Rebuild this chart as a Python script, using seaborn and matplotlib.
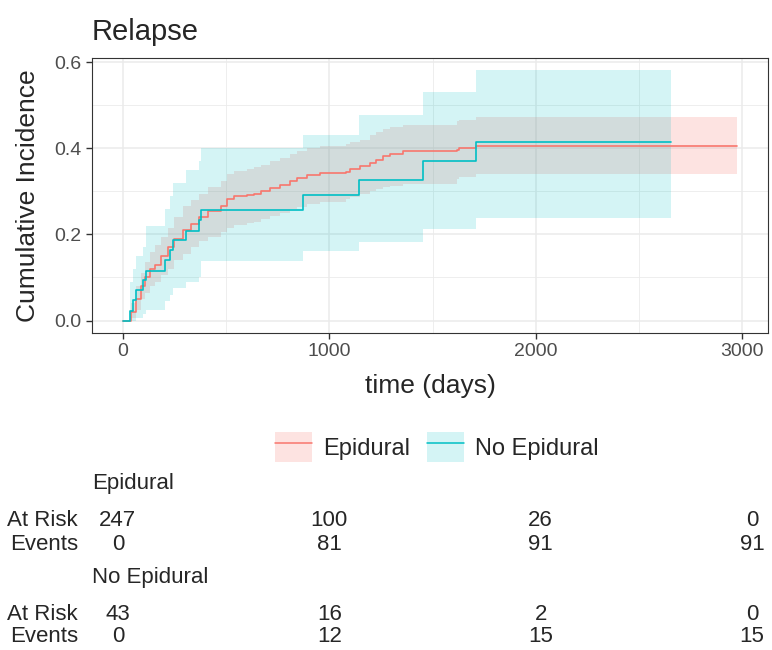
import numpy as np
import pandas as pd
import matplotlib
matplotlib.use("Agg")
import matplotlib.pyplot as plt
import seaborn as sns
from matplotlib.patches import Patch
from matplotlib.lines import Line2D

# --- curvas de incidencia acumulada
epi_time = [0, 42, 66, 90, 106, 130, 154, 186, 218, 250, 291, 331, 371, 411, 475, 507, 539,
            603, 635, 667, 715, 763, 811, 843, 891, 955, 1083, 1099, 1147, 1195, 1227, 1260,
            1292, 1356, 1620, 1628, 1708, 2975]
epi_cif = [0, 0.02, 0.05, 0.08, 0.10, 0.12, 0.13, 0.15, 0.17, 0.19, 0.21, 0.225, 0.24, 0.255,
           0.265, 0.282, 0.289, 0.291, 0.294, 0.30, 0.307, 0.316, 0.325, 0.332, 0.339, 0.343,
           0.346, 0.353, 0.358, 0.365, 0.374, 0.382, 0.386, 0.393, 0.397, 0.401, 0.405, 0.405]
epi_lo = [0, 0.005, 0.025, 0.05, 0.065, 0.08, 0.09, 0.105, 0.12, 0.14, 0.155, 0.17, 0.185,
          0.195, 0.205, 0.215, 0.222, 0.226, 0.23, 0.235, 0.242, 0.25, 0.258, 0.263, 0.27,
          0.275, 0.283, 0.287, 0.294, 0.302, 0.306, 0.31, 0.313, 0.317, 0.33, 0.333, 0.341, 0.341]
epi_hi = [0, 0.04, 0.08, 0.11, 0.135, 0.16, 0.175, 0.195, 0.215, 0.24, 0.265, 0.28, 0.295,
          0.31, 0.325, 0.34, 0.348, 0.352, 0.356, 0.362, 0.37, 0.378, 0.387, 0.394, 0.40,
          0.405, 0.41, 0.415, 0.42, 0.43, 0.437, 0.445, 0.449, 0.455, 0.464, 0.466, 0.472, 0.472]

noepi_time = [0, 34, 50, 62, 98, 112, 204, 228, 244, 305, 370, 380, 871, 1144, 1454, 1711, 2654]
noepi_cif = [0, 0.023, 0.047, 0.070, 0.093, 0.116, 0.140, 0.163, 0.186, 0.209, 0.233, 0.256,
             0.291, 0.327, 0.371, 0.414, 0.414]
noepi_lo = [0, 0, 0, 0.005, 0.015, 0.025, 0.045, 0.06, 0.075, 0.09, 0.10, 0.139, 0.162,
            0.183, 0.212, 0.239, 0.239]
noepi_hi = [0, 0.09, 0.12, 0.15, 0.17, 0.22, 0.26, 0.29, 0.32, 0.35, 0.37, 0.40, 0.431,
            0.477, 0.531, 0.581, 0.581]

# --- tabela de risco
risk_times = [0, 1000, 2000, 3000]
epi_at_risk = [247, 100, 26, 0]
epi_events = [0, 81, 91, 91]
noepi_at_risk = [43, 16, 2, 0]
noepi_events = [0, 12, 15, 15]

groups = ["Epidural", "No Epidural"]
cores = {"Epidural": "#F8766D", "No Epidural": "#00BFC4"}
alfa = {"Epidural": 0.2, "No Epidural": 0.17}

df = pd.concat([
    pd.DataFrame({"time": epi_time, "cif": epi_cif, "grupo": "Epidural"}),
    pd.DataFrame({"time": noepi_time, "cif": noepi_cif, "grupo": "No Epidural"}),
])

sns.set_style("white")
plt.rcParams["font.family"] = ["Liberation Sans", "DejaVu Sans"]

fig = plt.figure(figsize=(7.72, 6.5), dpi=100)
ax = fig.add_axes([92 / 772, 1 - 333 / 650, 676 / 772, 275 / 650])

# grade estilo theme_bw
ax.set_xticks([0, 1000, 2000, 3000])
ax.set_xticks([500, 1500, 2500], minor=True)
ax.set_yticks([0, 0.2, 0.4, 0.6])
ax.set_yticks([0.1, 0.3, 0.5], minor=True)
ax.grid(True, which="major", color="#EBEBEB", lw=1.1)
ax.grid(True, which="minor", color="#EBEBEB", lw=0.6)
ax.set_axisbelow(True)

ax.fill_between(epi_time, epi_lo, epi_hi, step="post", color=cores["Epidural"],
                alpha=alfa["Epidural"], lw=0)
ax.fill_between(noepi_time, noepi_lo, noepi_hi, step="post", color=cores["No Epidural"],
                alpha=alfa["No Epidural"], lw=0)

sns.lineplot(data=df, x="time", y="cif", hue="grupo", palette=cores, estimator=None,
             drawstyle="steps-post", lw=1.2, legend=False, ax=ax)

ax.set_xlim(-149, 3124)
ax.set_ylim(-0.029, 0.61)
ax.set_yticklabels(["0.0", "0.2", "0.4", "0.6"])
ax.set_xlabel("")
ax.set_ylabel("")
ax.tick_params(which="major", length=4, width=1, color="#333333", labelcolor="#4D4D4D",
               labelsize=14, bottom=True, left=True)
ax.tick_params(which="minor", length=0)
for s in ax.spines.values():
    s.set_color("#333333")
    s.set_linewidth(0.8)

fig.text(92 / 772, 1 - 40 / 650, "Relapse", fontsize=21, va="baseline")
fig.text(28 / 772, 1 - 196 / 650, "Cumulative Incidence", fontsize=19, rotation=90,
         ha="center", va="center")
fig.text(430 / 772, 1 - 393 / 650, "time (days)", fontsize=19, ha="center", va="baseline")

# legenda
handles = [(Patch(facecolor=cores[g], alpha=alfa[g], edgecolor="none"),
            Line2D([], [], color=cores[g], lw=1.1)) for g in groups]
fig.legend(handles, groups, loc="center", bbox_to_anchor=(437 / 772, 1 - 447 / 650), ncol=2,
           frameon=False, fontsize=17, handlelength=1.55, handleheight=1.55,
           handletextpad=0.5, columnspacing=0.7)

# tabela de numeros em risco
tab = fig.add_axes([0, 0, 1, 1])
tab.set_xlim(-558, 3095)
tab.set_ylim(650, 0)
tab.axis("off")
tab.patch.set_alpha(0)

def bloco(nome, y_nome, y_risk, y_ev, at_risk, events):
    tab.text(92 / 0.2113 - 558, y_nome, nome, fontsize=16, va="center", ha="left")
    tab.text(78 / 0.2113 - 558, y_risk, "At Risk", fontsize=16, va="center", ha="right")
    tab.text(78 / 0.2113 - 558, y_ev, "Events", fontsize=16, va="center", ha="right")
    for t, r, e in zip(risk_times, at_risk, events):
        tab.text(t, y_risk, str(r), fontsize=16, va="center", ha="center")
        tab.text(t, y_ev, str(e), fontsize=16, va="center", ha="center")

bloco("Epidural", 484, 520, 544, epi_at_risk, epi_events)
bloco("No Epidural", 577, 614, 637, noepi_at_risk, noepi_events)

fig.savefig("out.png", dpi=100)
